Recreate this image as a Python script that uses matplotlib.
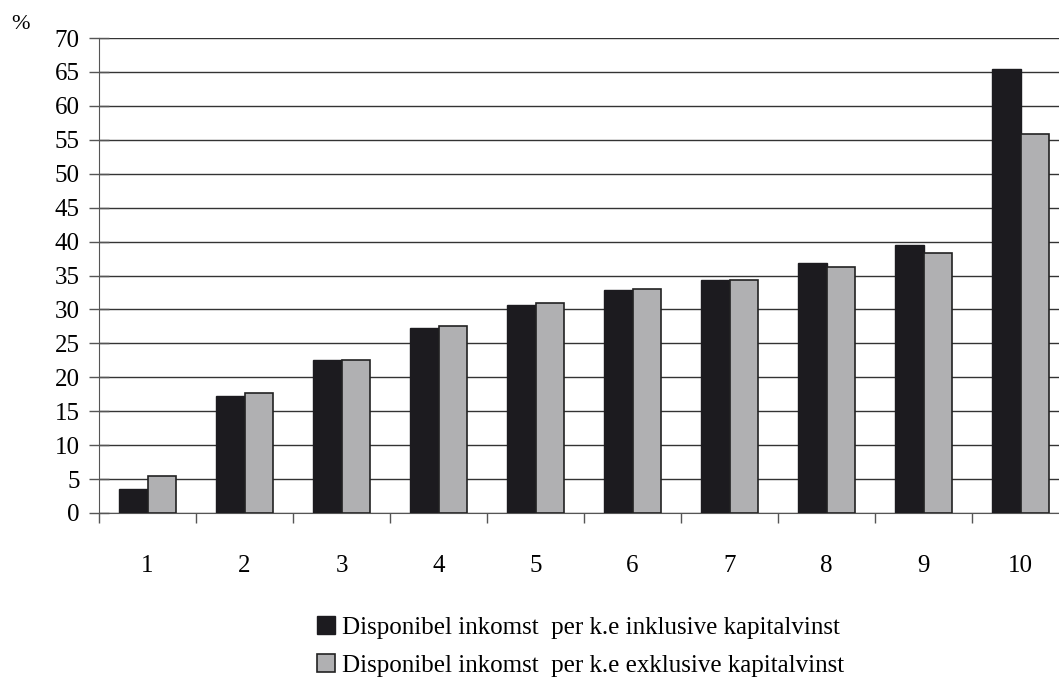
import matplotlib.pyplot as plt
import numpy as np

plt.rcParams['font.family'] = ['Liberation Serif', 'DejaVu Serif']

kategorier = ['1', '2', '3', '4', '5', '6', '7', '8', '9', '10']
inkl_kapitalvinst = [3.5, 17.3, 22.6, 27.3, 30.7, 32.8, 34.4, 36.8, 39.5, 65.5]
exkl_kapitalvinst = [5.5, 17.7, 22.6, 27.5, 30.9, 33.0, 34.3, 36.2, 38.3, 55.9]
serienamn = ['Disponibel inkomst  per k.e inklusive kapitalvinst',
             'Disponibel inkomst  per k.e exklusive kapitalvinst']

fig = plt.figure(figsize=(10.59, 6.79), dpi=100)
ax = fig.add_axes([0.0935, 0.2445, 0.916, 0.6995])

x = np.arange(len(kategorier))
w = 0.29
b1 = ax.bar(x - w / 2, inkl_kapitalvinst, w, color='#1c1b1f', edgecolor='#1c1b1f',
            linewidth=1, label=serienamn[0], zorder=3)
b2 = ax.bar(x + w / 2, exkl_kapitalvinst, w, color='#b0b0b2', edgecolor='#222222',
            linewidth=1.2, label=serienamn[1], zorder=3)

ax.set_xlim(-0.5, len(kategorier) - 0.5)
ax.set_ylim(0, 70)
ax.set_yticks(range(0, 71, 5))
ax.set_xticks(x)
ax.set_xticklabels(kategorier)
ax.set_xticks(np.arange(-0.5, len(kategorier), 1), minor=True)

ax.tick_params(axis='x', which='major', length=0, pad=30, labelsize=18)
ax.tick_params(axis='x', which='minor', length=7, width=1, color='#555555', direction='out')
ax.tick_params(axis='y', length=14, width=1, color='#555555', direction='inout',
               pad=7, labelsize=18)

ax.grid(axis='y', color='#333333', linewidth=1, zorder=0)
for s in ['top', 'right']:
    ax.spines[s].set_visible(False)
ax.spines['left'].set_color('#555555')
ax.spines['bottom'].set_color('#555555')

fig.text(0.011, 0.958, '%', fontsize=16)

fig.legend(handles=[b1, b2], loc='upper left', bbox_to_anchor=(0.290, 0.107),
           bbox_transform=fig.transFigure, frameon=False, fontsize=18,
           handlelength=0.7, handleheight=0.7, handletextpad=0.3, labelspacing=0.62,
           borderaxespad=0)

fig.savefig('out.png', dpi=100)
